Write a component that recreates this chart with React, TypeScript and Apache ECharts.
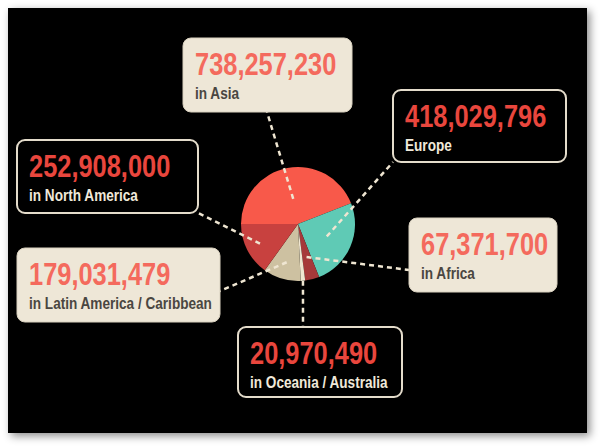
import React, { useEffect, useRef } from 'react';
import * as echarts from 'echarts';

// ---- data ----
const regions = ['Asia', 'Europe', 'Africa', 'Oceania / Australia', 'Latin America / Caribbean', 'North America'];
const captions = ['in Asia', 'Europe', 'in Africa', 'in Oceania / Australia', 'in Latin America / Caribbean', 'in North America'];
const users = [738257230, 418029796, 67371700, 20970490, 179031479, 252908000];

// ---- styles ----
const sliceColors = ['#f8594a', '#5fcab5', '#a6393a', '#efe6d1', '#cdc1a1', '#c8413f'];
const CX = 298;
const CY = 224;
const R = 57;
const START = 180;

// box layout per region (same order as data)
const boxLayout = [
  { x: 183, y: 38, w: 169, h: 74, light: true, ax: 267, ay: 112, f: 0.45 },
  { x: 393, y: 90, w: 173, h: 72, light: false, ax: 393, ay: 162, f: 0.55 },
  { x: 409, y: 218, w: 148, h: 74, light: true, ax: 409, ay: 270, f: 0.6 },
  { x: 238, y: 327, w: 164, h: 70, light: false, ax: 303, ay: 327, f: 1.0 },
  { x: 17, y: 248, w: 203, h: 74, light: true, ax: 220, ay: 291, f: 0.7 },
  { x: 17, y: 140, w: 181, h: 73, light: false, ax: 198, ay: 213, f: 0.75 },
];

const FONT = '"Liberation Sans", Arial, sans-serif';
const CREAM = '#eee7d7';
const NUM_SCALE = 0.82;
const CAP_SCALE = 0.85;

export default function App() {
  const ref = useRef<HTMLDivElement>(null);
  useEffect(() => {
    document.body.style.margin = '0';
    const chart = echarts.init(ref.current!, undefined, { renderer: 'svg' });
    const total = users.reduce((a, b) => a + b, 0);
    let acc = 0;
    const graphics: any[] = [
      {
        type: 'rect',
        z: 0,
        shape: { x: 8, y: 8, width: 579, height: 425 },
        style: { fill: '#000', shadowBlur: 8, shadowOffsetX: 3, shadowOffsetY: 3, shadowColor: 'rgba(0,0,0,0.45)' },
      },
    ];
    users.forEach((v, i) => {
      const a0 = START - (acc / total) * 360;
      acc += v;
      const a1 = START - (acc / total) * 360;
      const mid = ((a0 + a1) / 2) * Math.PI / 180;
      const b = boxLayout[i];
      const ix = CX + Math.cos(mid) * R * b.f;
      const iy = CY - Math.sin(mid) * R * b.f;
      graphics.push({
        type: 'line',
        z: 10,
        silent: true,
        shape: { x1: ix, y1: iy, x2: b.ax, y2: b.ay },
        style: { stroke: '#efe6d2', lineWidth: 2.5, lineDash: [5, 4] },
      });
      graphics.push({
        type: 'rect',
        z: 11,
        shape: { x: b.x, y: b.y, width: b.w, height: b.h, r: 8 },
        style: b.light
          ? { fill: CREAM, stroke: '#d9d1bf', lineWidth: 1 }
          : { fill: '#000', stroke: '#e4dccb', lineWidth: 2 },
      });
      graphics.push({
        type: 'text',
        z: 12,
        x: b.x + 12,
        y: b.y + 26,
        scaleX: NUM_SCALE,
        style: {
          text: v.toLocaleString('en-US'),
          x: 0,
          y: 0,
          verticalAlign: 'middle',
          align: 'left',
          fill: b.light ? '#f46a5d' : '#e9463d',
          fontSize: 31,
          fontWeight: 'bold',
          fontFamily: FONT,
        },
      });
      graphics.push({
        type: 'text',
        z: 12,
        x: b.x + 12,
        y: b.y + 55.5,
        scaleX: CAP_SCALE,
        style: {
          text: captions[i],
          x: 0,
          y: 0,
          verticalAlign: 'middle',
          align: 'left',
          fill: b.light ? '#4a4641' : '#f0e9da',
          fontSize: 16,
          fontWeight: 'bold',
          fontFamily: FONT,
        },
      });
    });

    chart.setOption({
      animation: false,
      backgroundColor: '#ffffff',
      graphic: { elements: graphics },
      series: [
        {
          type: 'pie',
          z: 5,
          center: [CX, CY],
          radius: R,
          startAngle: START,
          clockwise: true,
          silent: true,
          label: { show: false },
          labelLine: { show: false },
          emphasis: { disabled: true },
          data: users.map((v, i) => ({ name: regions[i], value: v, itemStyle: { color: sliceColors[i] } })),
        },
      ],
    });
    return () => chart.dispose();
  }, []);
  return <div ref={ref} style={{ width: 600, height: 446 }} />;
}
